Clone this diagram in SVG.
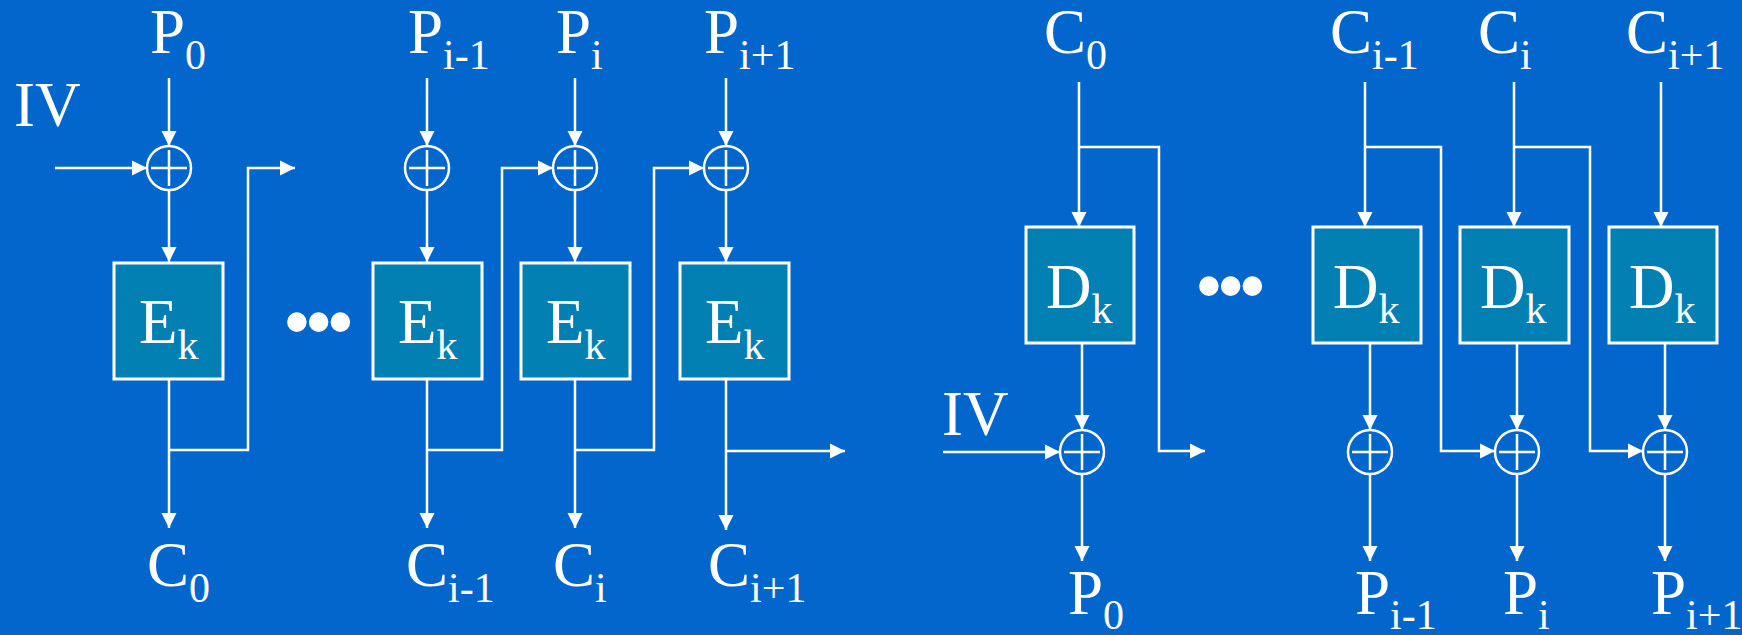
<svg xmlns="http://www.w3.org/2000/svg" width="1742" height="635" viewBox="0 0 1742 635">
<defs>
<marker id="ah" markerUnits="userSpaceOnUse" markerWidth="16" markerHeight="16" refX="15" refY="8" orient="auto"><path d="M0,0.5 L15,8 L0,15.5 z" fill="#ffffff"/></marker>
<g id="xorsym"><circle r="22" fill="none" stroke="#ffffff" stroke-width="2.5"/><path d="M-18,0 H18 M0,-18 V18" stroke="#ffffff" stroke-width="2.5" fill="none"/></g>
</defs>
<style>
.lbl{font-family:"Liberation Serif","Times New Roman",serif;font-size:63px;fill:#ffffff}
.sub{font-size:42px}
.box{fill:#0380B3;stroke:#ffffff;stroke-width:3}
.ln{fill:none;stroke:#ffffff;stroke-width:2.5}
.arr{fill:none;stroke:#ffffff;stroke-width:2.5;marker-end:url(#ah)}
.dots{font-family:"Liberation Sans",Arial,sans-serif;font-weight:bold;font-size:68px;fill:#ffffff;letter-spacing:-2px}
</style>
<rect x="0" y="0" width="1742" height="635" fill="#0366CC"/>

<g id="connectors">
<!-- encryption -->
<path class="arr" d="M55,168 H147"/>
<path class="arr" d="M169,78 V146"/>
<path class="arr" d="M427,78 V146"/>
<path class="arr" d="M575,78 V146"/>
<path class="arr" d="M726,78 V146"/>
<path class="arr" d="M169,190 V262"/>
<path class="arr" d="M427,190 V262"/>
<path class="arr" d="M575,190 V262"/>
<path class="arr" d="M726,190 V262"/>
<path class="arr" d="M169,379 V528"/>
<path class="arr" d="M427,379 V528"/>
<path class="arr" d="M575,379 V528"/>
<path class="arr" d="M726,379 V530"/>
<path class="arr" d="M169,450 H248 V168 H295"/>
<path class="arr" d="M427,450 H502 V168 H553"/>
<path class="arr" d="M575,450 H654 V168 H704"/>
<path class="arr" d="M726,451 H845"/>
<!-- decryption -->
<path class="arr" d="M1079,82 V227"/>
<path class="arr" d="M1365,82 V227"/>
<path class="arr" d="M1514,82 V227"/>
<path class="arr" d="M1661,82 V227"/>
<path class="arr" d="M1079,147 H1159 V451 H1205"/>
<path class="arr" d="M1365,147 H1441 V451 H1495"/>
<path class="arr" d="M1514,147 H1590 V451 H1643"/>
<path class="arr" d="M1082,343 V430"/>
<path class="arr" d="M1370,343 V430"/>
<path class="arr" d="M1517,343 V430"/>
<path class="arr" d="M1665,343 V430"/>
<path class="arr" d="M1082,474 V561"/>
<path class="arr" d="M1370,474 V561"/>
<path class="arr" d="M1517,474 V561"/>
<path class="arr" d="M1665,474 V561"/>
<path class="arr" d="M943,452 H1060"/>
</g>

<!-- encryption labels -->
<g id="iv-enc"><text class="lbl" x="14" y="126">IV</text></g>
<g id="p0-enc"><text class="lbl" x="150" y="53">P<tspan class="sub" dy="16">0</tspan></text></g>
<g id="pim1-enc"><text class="lbl" x="408" y="53">P<tspan class="sub" dy="16">i-1</tspan></text></g>
<g id="pi-enc"><text class="lbl" x="556" y="53">P<tspan class="sub" dy="16">i</tspan></text></g>
<g id="pip1-enc"><text class="lbl" x="704" y="53">P<tspan class="sub" dy="16">i+1</tspan></text></g>

<g id="xor-e0"><use href="#xorsym" x="169" y="168"/></g>
<g id="xor-e1"><use href="#xorsym" x="427" y="168"/></g>
<g id="xor-e2"><use href="#xorsym" x="575" y="168"/></g>
<g id="xor-e3"><use href="#xorsym" x="726" y="168"/></g>

<g id="enc0"><rect class="box" x="114" y="263" width="109" height="116"/><text class="lbl" x="139" y="343">E<tspan class="sub" dy="16">k</tspan></text></g>
<g id="enc1"><rect class="box" x="373" y="263" width="109" height="116"/><text class="lbl" x="398" y="343">E<tspan class="sub" dy="16">k</tspan></text></g>
<g id="enc2"><rect class="box" x="521" y="263" width="109" height="116"/><text class="lbl" x="546" y="343">E<tspan class="sub" dy="16">k</tspan></text></g>
<g id="enc3"><rect class="box" x="680" y="263" width="109" height="116"/><text class="lbl" x="705" y="343">E<tspan class="sub" dy="16">k</tspan></text></g>

<g id="dots-enc"><text class="dots" x="285" y="345">•••</text></g>

<g id="c0-enc"><text class="lbl" x="147" y="586">C<tspan class="sub" dy="16">0</tspan></text></g>
<g id="cim1-enc"><text class="lbl" x="406" y="586">C<tspan class="sub" dy="16">i-1</tspan></text></g>
<g id="ci-enc"><text class="lbl" x="553" y="586">C<tspan class="sub" dy="16">i</tspan></text></g>
<g id="cip1-enc"><text class="lbl" x="708" y="586">C<tspan class="sub" dy="16">i+1</tspan></text></g>

<!-- decryption -->
<g id="c0-dec"><text class="lbl" x="1044" y="53">C<tspan class="sub" dy="16">0</tspan></text></g>
<g id="cim1-dec"><text class="lbl" x="1330" y="53">C<tspan class="sub" dy="16">i-1</tspan></text></g>
<g id="ci-dec"><text class="lbl" x="1478" y="53">C<tspan class="sub" dy="16">i</tspan></text></g>
<g id="cip1-dec"><text class="lbl" x="1626" y="53">C<tspan class="sub" dy="16">i+1</tspan></text></g>

<g id="dec0"><rect class="box" x="1026" y="227" width="108" height="116"/><text class="lbl" x="1046" y="308">D<tspan class="sub" dy="15">k</tspan></text></g>
<g id="dec1"><rect class="box" x="1313" y="227" width="108" height="116"/><text class="lbl" x="1333" y="308">D<tspan class="sub" dy="15">k</tspan></text></g>
<g id="dec2"><rect class="box" x="1460" y="227" width="109" height="116"/><text class="lbl" x="1480" y="308">D<tspan class="sub" dy="15">k</tspan></text></g>
<g id="dec3"><rect class="box" x="1609" y="227" width="108" height="116"/><text class="lbl" x="1629" y="308">D<tspan class="sub" dy="15">k</tspan></text></g>

<g id="dots-dec"><text class="dots" x="1197" y="309">•••</text></g>

<g id="iv-dec"><text class="lbl" x="942" y="435">IV</text></g>
<g id="xor-d0"><use href="#xorsym" x="1082" y="452"/></g>
<g id="xor-d1"><use href="#xorsym" x="1370" y="452"/></g>
<g id="xor-d2"><use href="#xorsym" x="1517" y="452"/></g>
<g id="xor-d3"><use href="#xorsym" x="1665" y="452"/></g>

<g id="p0-dec"><text class="lbl" x="1068" y="614">P<tspan class="sub" dy="15">0</tspan></text></g>
<g id="pim1-dec"><text class="lbl" x="1355" y="614">P<tspan class="sub" dy="15">i-1</tspan></text></g>
<g id="pi-dec"><text class="lbl" x="1503" y="614">P<tspan class="sub" dy="15">i</tspan></text></g>
<g id="pip1-dec"><text class="lbl" x="1651" y="614">P<tspan class="sub" dy="15">i+1</tspan></text></g>
</svg>
